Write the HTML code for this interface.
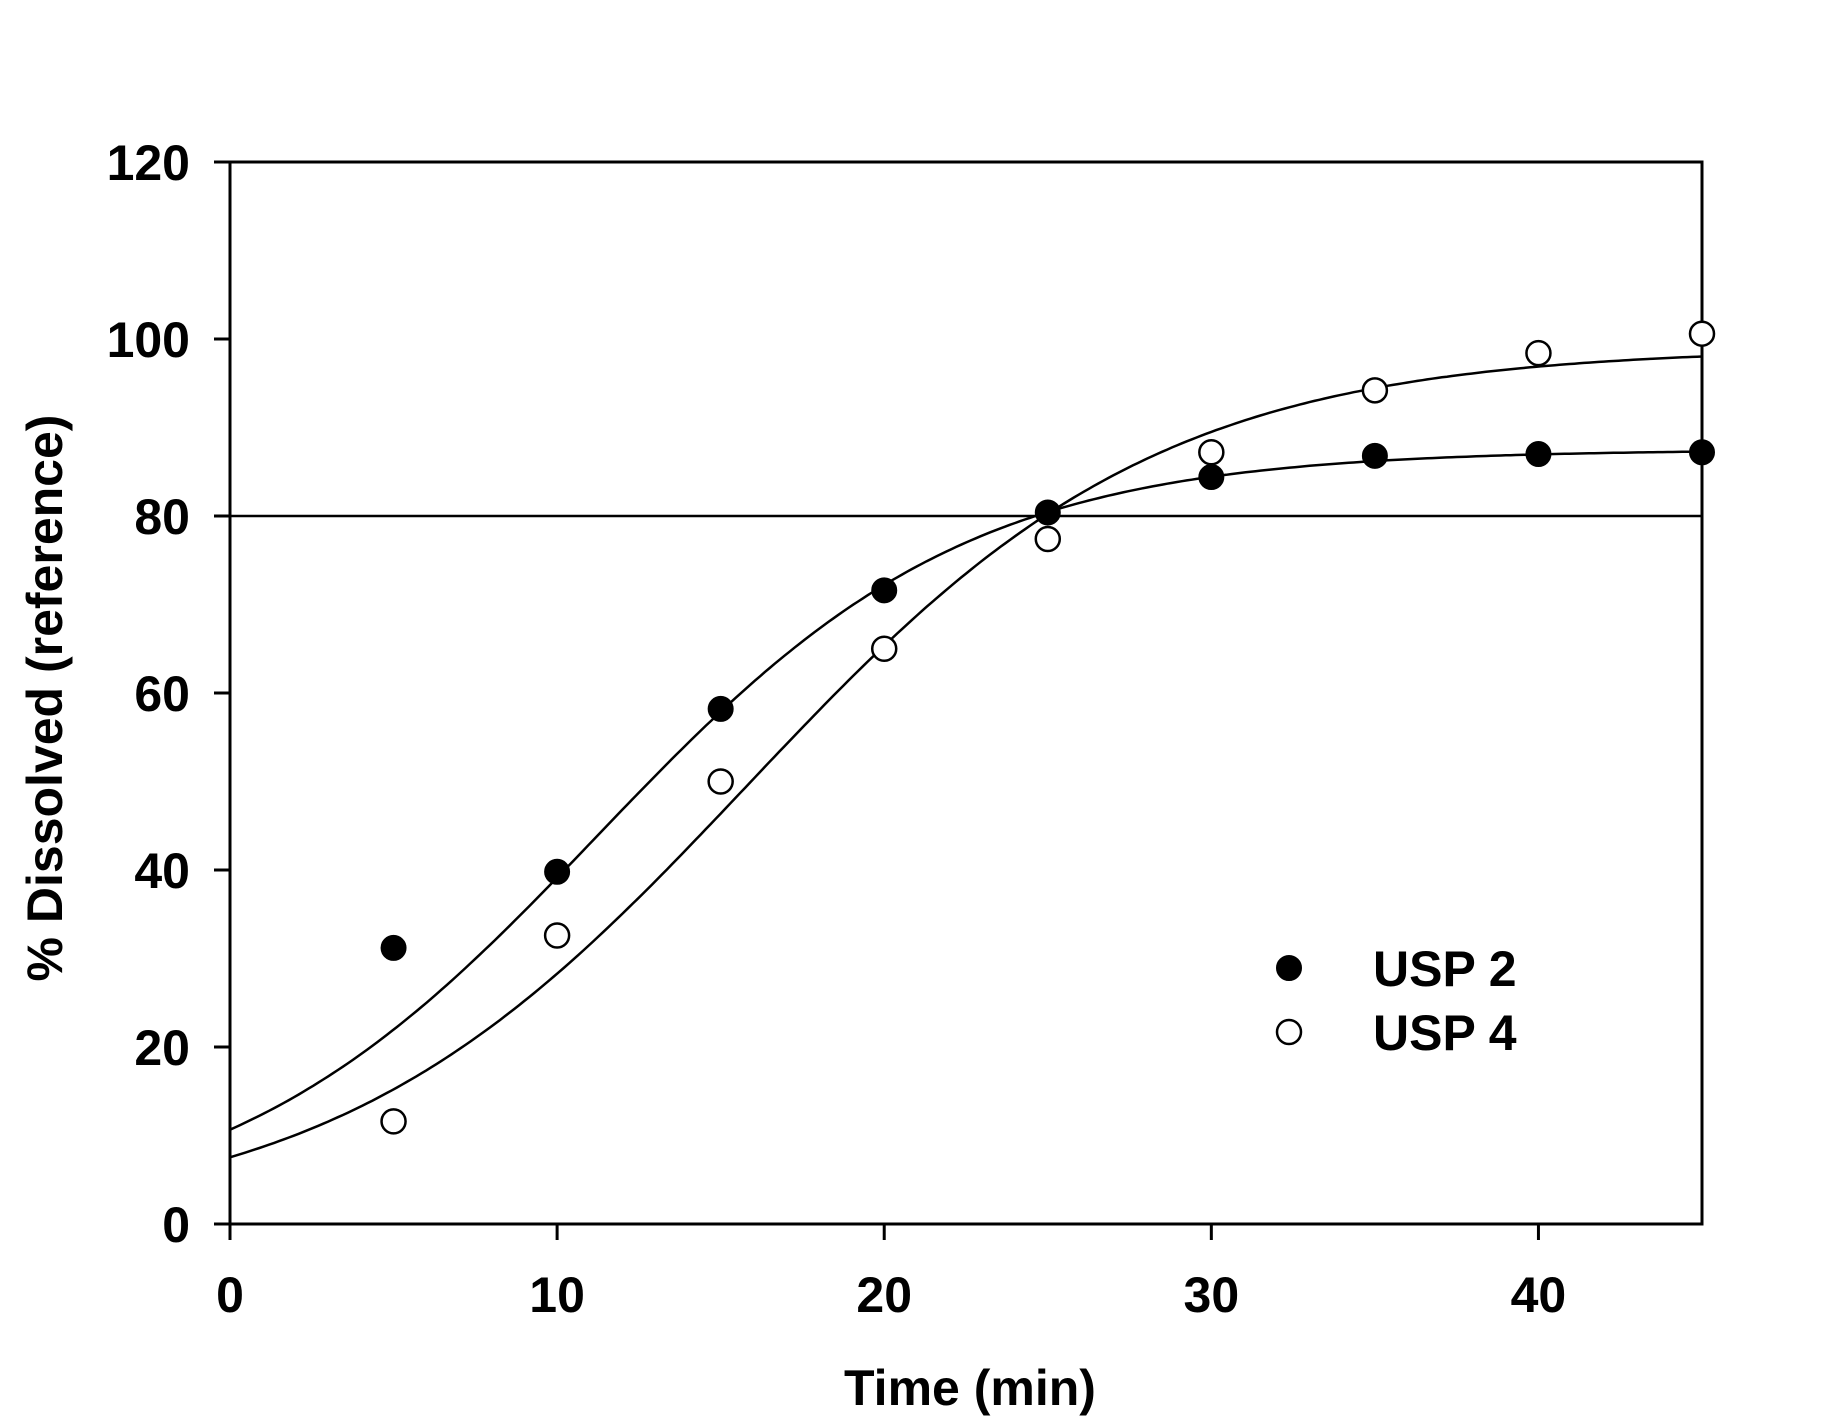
<!DOCTYPE html>
<html><head><meta charset="utf-8"><style>
html,body{margin:0;padding:0;background:#fff}
svg{display:block}
text{font-family:"Liberation Sans",Arial,sans-serif;font-weight:bold;fill:#000}
</style></head><body>
<svg id="chart" width="1845" height="1428" viewBox="0 0 1845 1428">
<rect width="1845" height="1428" fill="#fff"/>
<g id="plot"></g>
</svg>
<script>
const timePoints = [5,10,15,20,25,30,35,40,45];
const usp2Values = [31.2,39.8,58.2,71.6,80.4,84.4,86.8,87.0,87.2];
const usp4Values = [11.6,32.6,50.0,65.0,77.4,87.2,94.2,98.4,100.6];
// logistic fit parameters [amplitude, midpoint, slope]
const usp2Fit = [87.5,11.2,5.67];
const usp4Fit = [99.0,15.8,6.33];
const xTicks = [0,10,20,30,40];
const yTicks = [0,20,40,60,80,100,120];
const refLevel = [80];

const NS='http://www.w3.org/2000/svg';
const L=230,R=1702,T=162,B=1224,XMAX=45,YMAX=120;
const sx=v=>L+(R-L)*v/XMAX;
const sy=v=>B-(B-T)*v/YMAX;
const g=document.getElementById('plot');
function mk(tag,attrs){const e=document.createElementNS(NS,tag);for(const k in attrs)e.setAttribute(k,attrs[k]);g.appendChild(e);return e;}

const frame=mk('rect',{x:L,y:T,width:R-L,height:B-T,fill:'none',stroke:'#000','stroke-width':3});



yTicks.forEach(v=>{
  const t=mk('line',{x1:L-16,x2:L,y1:sy(v),y2:sy(v),stroke:'#000','stroke-width':3});
  
  
  const lb=mk('text',{x:190,y:sy(v)+18,'text-anchor':'end','font-size':50});
  lb.textContent=v;
  
  
});
xTicks.forEach(v=>{
  const t=mk('line',{x1:sx(v),x2:sx(v),y1:B,y2:B+16,stroke:'#000','stroke-width':3});
  
  
  const lb=mk('text',{x:sx(v),y:1312,'text-anchor':'middle','font-size':50});
  lb.textContent=v;
  
  
});

const ref=mk('line',{x1:L,x2:R,y1:sy(refLevel[0]),y2:sy(refLevel[0]),stroke:'#000','stroke-width':2.5});



function curve(p,name){
  let d='';
  for(let i=0;i<=300;i++){const x=XMAX*i/300;const y=p[0]/(1+Math.exp(-(x-p[1])/p[2]));d+=(i?'L':'M')+sx(x).toFixed(1)+','+sy(y).toFixed(1);}
  const c=mk('path',{d:d,fill:'none',stroke:'#000','stroke-width':2.5});
  
  
}
curve(usp2Fit,'usp2-fit-curve');
curve(usp4Fit,'usp4-fit-curve');

timePoints.forEach((t,i)=>{
  const a=mk('circle',{cx:sx(t),cy:sy(usp2Values[i]),r:12,fill:'#000',stroke:'#000','stroke-width':2});
  
  
  const b=mk('circle',{cx:sx(t),cy:sy(usp4Values[i]),r:12,fill:'#fff',stroke:'#000','stroke-width':2.5});
  
  
});

const lm1=mk('circle',{cx:1289,cy:968,r:12,fill:'#000',stroke:'#000','stroke-width':2});


const lt1=mk('text',{x:1373,y:986,'font-size':50});
lt1.textContent='USP 2';


const lm2=mk('circle',{cx:1289,cy:1032,r:12,fill:'#fff',stroke:'#000','stroke-width':2.5});


const lt2=mk('text',{x:1373,y:1050,'font-size':50});
lt2.textContent='USP 4';



const xt=mk('text',{x:970,y:1405,'text-anchor':'middle','font-size':50});
xt.textContent='Time (min)';


const yt=mk('text',{x:0,y:0,'text-anchor':'middle','font-size':50,transform:'translate(62,698) rotate(-90)'});
yt.textContent='% Dissolved (reference)';


</script>
</body></html>
